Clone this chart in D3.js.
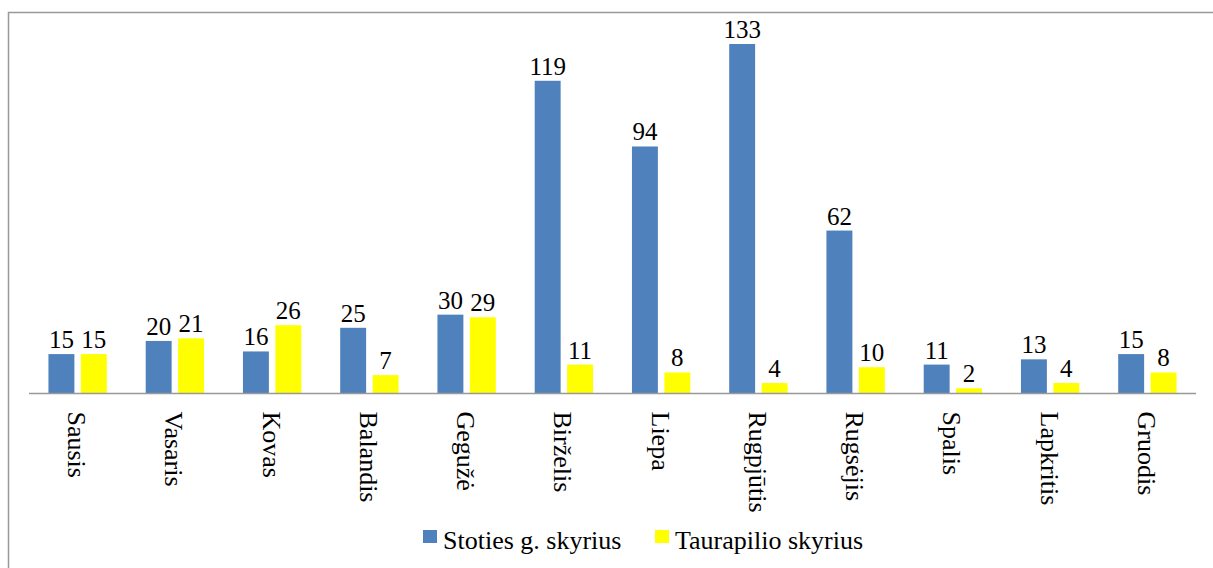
<html>
<head>
<meta charset="utf-8">
<script src="https://d3js.org/d3.v7.min.js"></script>
</head>
<body style="margin:0">
<svg id="chart" width="1213" height="568"></svg>
<script>
var months = ["Sausis", "Vasaris", "Kovas", "Balandis", "Gegužė", "Birželis",
              "Liepa", "Rugpjūtis", "Rugsėjis", "Spalis", "Lapkritis", "Gruodis"];
var stoties = [15, 20, 16, 25, 30, 119, 94, 133, 62, 11, 13, 15];
var taurapilio = [15, 21, 26, 7, 29, 11, 8, 4, 10, 2, 4, 8];
var seriesNames = ["Stoties g. skyrius", "Taurapilio skyrius"];
var seriesColors = ["#4F81BD", "#FFFF00"];

var svg = d3.select("#chart");

// outer frame (only top and left visible)
svg.append("path")
	.attr("d", "M8.5,568 L8.5,12.5 L1213,12.5")
	.attr("fill", "none")
	.attr("stroke", "#999")
	.attr("stroke-width", 1.5);

var x0 = d3.scaleBand()
	.domain(months)
	.range([29, 1196])
	.paddingInner(0.4)
	.paddingOuter(0.2);

var x1 = d3.scaleBand()
	.domain([0, 1])
	.range([0, x0.bandwidth()])
	.paddingInner(0.2);

var y = d3.scaleLinear()
	.domain([0, 140])
	.range([393.5, 25.6]);

var data = months.map(function(m, i) {
	return { month: m, values: [stoties[i], taurapilio[i]] };
});

var groups = svg.append("g").selectAll("g")
	.data(data)
	.enter()
	.append("g")
	.attr("transform", d => "translate(" + x0(d.month) + ",0)");

groups.selectAll("rect")
	.data(d => d.values.map((v, k) => ({ k: k, v: v })))
	.enter()
	.append("rect")
	.attr("x", d => x1(d.k))
	.attr("width", x1.bandwidth())
	.attr("y", d => y(d.v))
	.attr("height", d => y(0) - y(d.v))
	.attr("fill", d => seriesColors[d.k]);

// value labels straight on the svg
var labels = [];
data.forEach(function(d) {
	d.values.forEach(function(v, k) { labels.push({ month: d.month, k: k, v: v }); });
});
svg.selectAll("text.val")
	.data(labels)
	.enter()
	.append("text")
	.attr("class", "val")
	.attr("x", d => x0(d.month) + x1(d.k) + x1.bandwidth() / 2)
	.attr("y", d => y(d.v) - 6)
	.attr("text-anchor", "middle")
	.attr("style", "font-family: Tinos, 'Liberation Serif', serif; font-size: 25px")
	.text(d => d.v);

// x axis line
svg.append("line")
	.attr("x1", x0.range()[0])
	.attr("x2", x0.range()[1])
	.attr("y1", y(0))
	.attr("y2", y(0))
	.attr("stroke", "#999")
	.attr("stroke-width", 1.5);

// month labels, rotated
svg.selectAll("text.month")
	.data(months)
	.enter()
	.append("text")
	.attr("class", "month")
	.attr("transform", d => "translate(" + (x0(d) + x0.bandwidth() / 2 - 1) + "," + (y(0) + 18) + ") rotate(90)")
	.attr("dy", "0.33em")
	.attr("style", "font-family: Tinos, 'Liberation Serif', serif; font-size: 26px")
	.text(d => d);

// legend
var legendX = [423, 655];
var legend = svg.append("g").selectAll("g")
	.data(seriesNames)
	.enter()
	.append("g")
	.attr("transform", (d, i) => "translate(" + legendX[i] + ",0)");
legend.append("rect")
	.attr("x", 0)
	.attr("y", 530)
	.attr("width", 14)
	.attr("height", 13)
	.attr("fill", (d, i) => seriesColors[i]);
legend.append("text")
	.attr("x", 20)
	.attr("y", 549)
	.attr("style", "font-family: Tinos, 'Liberation Serif', serif; font-size: 26px")
	.text(d => d);
</script>
</body>
</html>
